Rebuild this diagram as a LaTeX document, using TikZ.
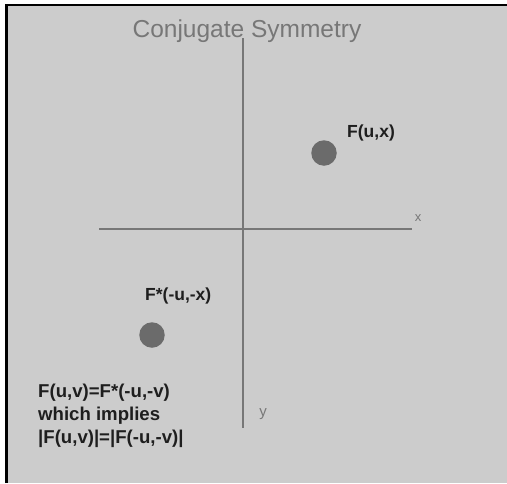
\documentclass[tikz,border=0pt]{standalone}
\usepackage{fontspec}
\setmainfont{Liberation Sans}
\definecolor{panel}{HTML}{CCCCCC}
\definecolor{axisgrey}{HTML}{777777}
\definecolor{dotgrey}{HTML}{6B6B6B}
\definecolor{labeltext}{HTML}{1E1E1E}
\tikzset{
  axisline/.style={draw=axisgrey, line width=2.6pt},
  dotmark/.style={circle, fill=dotgrey, minimum size=25.5pt, inner sep=0pt},
  boldlabel/.style={inner sep=0pt, text=labeltext, font=\bfseries\fontsize{17.5}{21}\selectfont},
  noteline/.style={inner sep=0pt, text=labeltext, font=\bfseries\fontsize{18.6}{23}\selectfont},
  axislabel/.style={inner sep=0pt, text=axisgrey},
}
\begin{document}
\begin{tikzpicture}[x=1pt,y=-1pt]
\useasboundingbox (0,0) rectangle (507,483);
\fill[white] (0,0) rectangle (507,483);
\fill[panel] (6,5) rectangle (507,483);
\draw[black, line width=2.4pt] (6.5,483) -- (6.5,5) -- (507,5);
% title
\node[inner sep=0pt, anchor=base, text=axisgrey, font=\fontsize{24.5}{28}\selectfont] (title) at (247,37) {Conjugate Symmetry};
% axes
\coordinate (xl) at (99,229);
\coordinate (xr) at (412,229);
\coordinate (yt) at (243,38);
\coordinate (yb) at (243,428);
\draw[axisline] (xl) -- (xr);
\draw[axisline] (yt) -- (yb);
\node[axislabel, font=\fontsize{13}{15}\selectfont] (xlab) at (418,218) {x};
\node[axislabel, font=\fontsize{15}{17}\selectfont] (ylab) at (263,414) {y};
% points
\node[dotmark] (p1) at (324,153) {};
\node[dotmark] (p2) at (152,335) {};
\node[boldlabel, anchor=base west] (l1) at (347,137) {F(u,x)};
\node[boldlabel, anchor=base west] (l2) at (145,300) {F*(-u,-x)};
% note
\node[noteline, anchor=base west] (n1) at (38,397) {F(u,v)=F*(-u,-v)};
\node[noteline, anchor=base west] (n2) at (38,420) {which implies};
\node[noteline, anchor=base west] (n3) at (38,443) {|F(u,v)|=|F(-u,-v)|};
\end{tikzpicture}
\end{document}
